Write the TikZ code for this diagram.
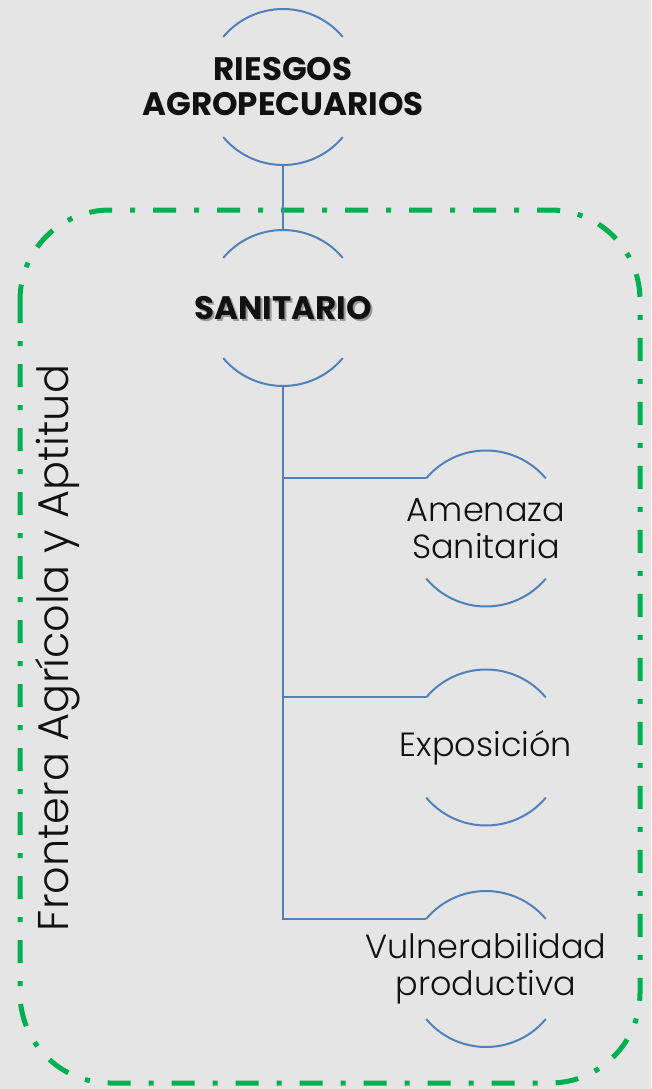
\documentclass[tikz,border=0pt]{standalone}
\usepackage{fontspec}
\setmainfont{Poppins}
\IfFontExistsTF{Poppins Light}{\newfontfamily\lightfont{Poppins Light}}{\newfontfamily\lightfont{Poppins}}
\definecolor{bgc}{HTML}{E5E5E5}
\definecolor{arcblue}{HTML}{4F81BD}
\definecolor{frgreen}{HTML}{00B050}
\definecolor{txt}{HTML}{111111}
\begin{document}
\begin{tikzpicture}[x=1pt,y=1pt,
  holder/.style={circle,minimum size=156pt,inner sep=0pt,outer sep=0pt},
  arcline/.style={arcblue,line width=2pt},
  link/.style={arcblue,line width=2pt},
  headtxt/.style={font=\fontsize{32.5}{35}\selectfont\bfseries,text=txt,align=center,inner sep=0pt},
  subtxt/.style={font=\fontsize{33.5}{37}\selectfont\lightfont,text=txt,align=center,inner sep=0pt},
  frame/.style={frgreen,line width=5pt,dash pattern=on 23pt off 18pt on 5pt off 18pt,rounded corners=90pt}]
\fill[bgc] (0,0) rectangle (651,-1089);
\useasboundingbox (0,0) rectangle (651,-1089);
\draw[frame] (20,-210) rectangle (640,-1083);
\node[holder] (r) at (283,-87) {};
\node[holder] (s) at (283,-308) {};
\node[holder] (a) at (486,-528.5) {};
\node[holder] (e) at (486,-747.5) {};
\node[holder] (v) at (486,-969) {};
\foreach \n in {r,s,a,e,v}{
  \draw[arcline] (\n.40) arc[start angle=40,end angle=140,radius=78pt];
  \draw[arcline] (\n.220) arc[start angle=220,end angle=320,radius=78pt];
}
\node[headtxt] (rt) at (r) {RIESGOS\\AGROPECUARIOS};
\node[headtxt,text=gray!80] (sh) at ([shift={(2pt,-2pt)}]s) {SANITARIO};
\node[headtxt] (st) at (s) {SANITARIO};
\node[subtxt] (at) at (a) {Amenaza\\Sanitaria};
\node[subtxt] (et) at (e) {Exposición};
\node[subtxt] (vt) at (v) {Vulnerabilidad\\productiva};
\node[subtxt,font=\fontsize{43}{48}\selectfont\lightfont,rotate=90] (fr) at (58,-648) {Frontera Agrícola y Aptitud};
\draw[link] (r.south) -- (s.north);
\draw[link] (s.south) |- (a.140);
\draw[link] (s.south) |- (e.140);
\draw[link] (s.south) |- (v.140);
\end{tikzpicture}
\end{document}
